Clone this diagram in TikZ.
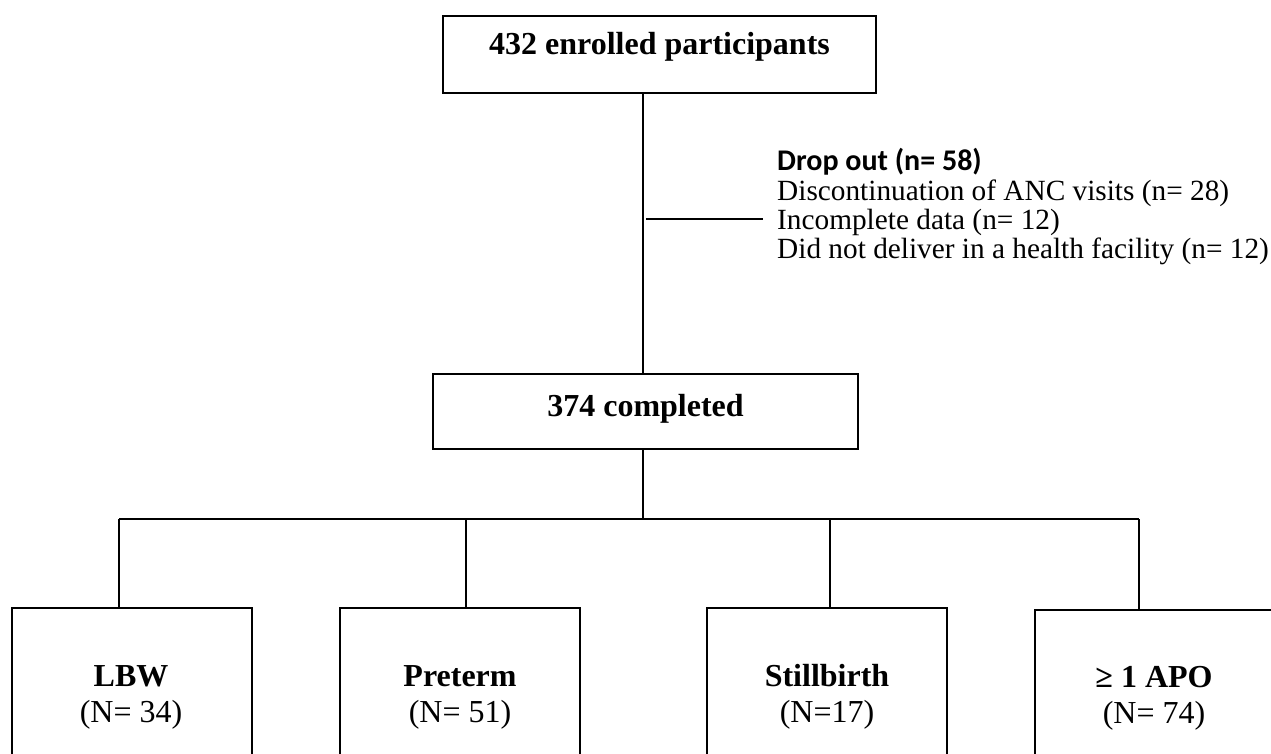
\documentclass[tikz,border=0pt]{standalone}
\usepackage{fontspec}
\setmainfont{Liberation Serif}
\newfontfamily\dropfont{Carlito}
\begin{document}
\begin{tikzpicture}[x=1pt,y=-1pt,
  box/.style={draw=black, line width=1.6pt, inner sep=0pt},
  conn/.style={draw=black, line width=1.6pt},
  bigb/.style={font=\fontsize{32}{36}\selectfont\bfseries, inner sep=0pt},
  bigr/.style={font=\fontsize{32}{36}\selectfont, inner sep=0pt},
  small/.style={font=\fontsize{29.3}{29.5}\selectfont, inner sep=0pt, anchor=base west},
  droph/.style={font=\dropfont\fontsize{30}{30}\selectfont\bfseries, inner sep=0pt, anchor=base west}]
\useasboundingbox (0,0) rectangle (1271,753);
\fill[white] (0,0) rectangle (1271,753);

% top and middle boxes
\node[box, bigb, minimum width=433pt, minimum height=77pt, text height=10pt, text depth=10pt] (enr) at (659.5,54.5) {432 enrolled participants};
\node[box, bigb, minimum width=425pt, minimum height=75pt, text height=19pt, text depth=10pt] (cmp) at (645.5,411.5) {374 completed};

% trunk
\coordinate (tx) at (643,0);
\draw[conn] (enr.south -| tx) -- (cmp.north -| tx);

% drop out branch
\coordinate (d0) at (646,219);
\coordinate (d1) at (763,219);
\draw[conn] (d0) -- (d1);
\node[droph] (dh) at (777,170) {Drop out (n= 58)};
\node[small] (da) at (777,200) {Discontinuation of ANC visits (n= 28)};
\node[small] (db) at (777,229) {Incomplete data (n= 12)};
\node[small] (dc) at (777,258) {Did not deliver in a health facility (n= 12)};

% branch to outcomes
\coordinate (bm) at (643,519);
\coordinate (b1) at (119,519);
\coordinate (b2) at (466,519);
\coordinate (b3) at (830,519);
\coordinate (b4) at (1139,519);
\draw[conn] (cmp.south -| bm) -- (bm);
\draw[conn] (b1) -- (b4);

% outcome boxes
\node[box, minimum width=240pt, minimum height=180pt, anchor=north] (lbw) at (132,607) {};
\node[box, minimum width=240pt, minimum height=180pt, anchor=north] (pre) at (460,607) {};
\node[box, minimum width=240pt, minimum height=180pt, anchor=north] (sti) at (827,607) {};
\node[box, minimum width=238pt, minimum height=180pt, anchor=north] (apo) at (1154,609) {};

\draw[conn] (b1) -- (b1 |- lbw.north);
\draw[conn] (b2) -- (b2 |- pre.north);
\draw[conn] (b3) -- (b3 |- sti.north);
\draw[conn] (b4) -- (b4 |- apo.north);

\node[bigb, anchor=base] (lbwt) at (131,686) {LBW};
\node[bigr, anchor=base] (lbwn) at (131,722) {(N= 34)};
\node[bigb, anchor=base] (pret) at (460,686) {Preterm};
\node[bigr, anchor=base] (pren) at (460,722) {(N= 51)};
\node[bigb, anchor=base] (stit) at (827,686) {Stillbirth};
\node[bigr, anchor=base] (stin) at (827,722) {(N=17)};
\node[bigb, anchor=base] (apot) at (1154,687) {≥ 1 APO};
\node[bigr, anchor=base] (apon) at (1154,723) {(N= 74)};
\end{tikzpicture}
\end{document}
